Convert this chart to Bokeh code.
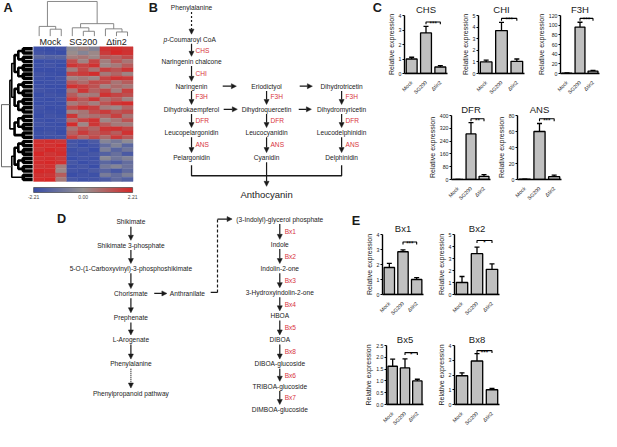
import numpy as np
from bokeh.plotting import figure
from bokeh.models import (Range1d, FactorRange, ColumnDataSource, Arrow, NormalHead, Whisker,
                          TeeHead, LinearColorMapper, ColorBar, FixedTicker,
                          PrintfTickFormatter, Spacer)
from bokeh.layouts import row, column
from bokeh.core.properties import value
from bokeh.embed import file_html
from bokeh.resources import INLINE

FONT = "Liberation Sans"
RED = "#d8343c"
INK = "#1a1a1a"
BAR_FILL = "#c0c0c0"

# ---------------- data ----------------
categories = ["Mock", "SG200", "Δtin2"]

chs_mean = [1.00, 2.80, 0.45]; chs_err = [0.12, 0.45, 0.10]; chs_ticks = [0, 1, 2, 3, 4]
chi_mean = [1.00, 3.70, 1.05]; chi_err = [0.15, 0.70, 0.20]; chi_ticks = [0, 1, 2, 3, 4, 5]
f3h_mean = [0.8, 96.0, 5.0];   f3h_err = [0.3, 10.0, 1.5];   f3h_ticks = [0, 20, 40, 60, 80, 100, 120]
dfr_mean = [0.5, 285.0, 20.0]; dfr_err = [0.3, 70.0, 10.0];  dfr_ticks = [0, 80, 160, 240, 320, 400]
ans_mean = [0.3, 60.0, 3.5];   ans_err = [0.2, 10.0, 2.0];   ans_ticks = [0, 20, 40, 60, 80]
bx1_mean = [1.80, 2.85, 1.00]; bx1_err = [0.27, 0.12, 0.12]; bx1_ticks = [0, 1, 2, 3, 4]
bx2_mean = [1.00, 3.40, 2.10]; bx2_err = [0.50, 0.55, 0.45]; bx2_ticks = [0, 1, 2, 3, 4, 5]
bx5_mean = [1.62, 1.55, 1.00]; bx5_err = [0.30, 0.38, 0.07]; bx5_ticks = [0.0, 0.5, 1.0, 1.5, 2.0, 2.5]
bx8_mean = [1.95, 2.95, 1.00]; bx8_err = [0.20, 0.50, 0.10]; bx8_ticks = [0, 1, 2, 3, 4]

sig_stars = {"CHS": "***", "CHI": "***", "F3H": "***", "DFR": "**", "ANS": "***",
             "Bx1": "***", "Bx2": "*", "Bx5": "*", "Bx8": "***"}
sig_level = {"CHS": 3.55, "CHI": 4.75, "F3H": 114, "DFR": 380, "ANS": 76,
             "Bx1": 3.5, "Bx2": 4.5, "Bx5": 2.2, "Bx8": 3.65}

# heatmap (z-scores), columns: Mock x3, SG200 x3, Δtin2 x3
heat_rows = [
    [-2.1, -2.2, -2.0, -0.2, 0.3, -0.5, 2.0, 2.1, 1.9],
    [-2.0, -2.1, -2.2, 0.1, -0.4, 0.2, 1.8, 2.2, 2.0],
    [-1.4, -1.6, -1.5, 0.4, 0.6, 0.2, 1.2, 1.0, 1.5],
    [-2.2, -2.1, -2.1, 1.4, 0.3, 1.6, 0.4, 1.2, 0.6],
    [-2.1, -2.0, -2.2, 1.9, 1.6, 2.0, 0.2, 0.5, 1.1],
    [-2.2, -2.2, -2.1, 0.4, 1.5, 0.6, 1.7, 1.3, 1.9],
    [-2.0, -2.1, -2.2, 1.6, 1.8, 2.1, 0.5, 0.9, 0.3],
    [-2.1, -2.2, -2.0, 0.3, 0.5, 0.2, 1.6, 2.0, 1.8],
    [-2.2, -2.1, -2.1, 1.2, 0.8, 1.5, 1.4, 0.6, 1.1],
    [-2.1, -2.2, -2.2, 2.0, 1.7, 1.3, 0.3, 0.8, 0.5],
    [-2.0, -2.1, -2.2, 0.6, 1.9, 1.0, 1.5, 0.4, 1.7],
    [-2.2, -2.0, -2.1, 1.1, 0.4, 0.5, 2.0, 1.6, 1.4],
    [-2.1, -2.2, -2.0, 1.8, 1.2, 1.9, 0.7, 1.1, 0.3],
    [-2.2, -2.1, -2.2, 0.5, 0.9, 0.4, 1.3, 1.9, 2.1],
    [-2.0, -2.2, -2.1, 1.5, 2.0, 1.7, 0.4, 0.2, 0.9],
    [-2.1, -2.1, -2.2, 0.3, 0.6, 1.4, 1.8, 1.2, 1.5],
    [-2.2, -2.0, -2.1, 1.9, 0.5, 0.7, 1.0, 1.7, 0.6],
    [-2.1, -2.2, -2.0, 0.8, 1.6, 2.0, 0.2, 0.6, 1.3],
    [-2.0, -2.1, -2.2, 2.1, 0.2, 1.9, 1.1, 0.5, 0.4],
    [-2.2, -2.1, -2.1, 0.6, 1.3, 0.9, 1.9, 2.0, 1.6],
    [-2.1, -2.0, -2.2, 1.0, 1.8, 1.2, 1.6, 1.1, 2.0],
    [-2.2, -2.1, -2.0, 1.7, 0.9, 1.5, 0.8, 1.8, 1.2],
    [2.0, 2.1, 1.9, -2.0, -2.1, -1.8, -0.4, -0.8, -0.2],
    [2.1, 2.0, 2.2, -1.9, -2.2, -2.0, -1.2, -0.5, -1.4],
    [1.9, 2.2, 2.0, -2.1, -1.9, -2.2, -0.6, -1.5, -0.9],
    [2.2, 1.9, 2.1, -2.0, -2.1, -1.9, -1.6, -1.1, -1.8],
    [2.0, 2.1, 1.8, -2.2, -2.0, -2.1, -0.3, -0.9, -0.5],
    [2.1, 2.2, 2.0, -1.9, -2.2, -2.0, -1.4, -1.7, -1.2],
    [1.9, 2.0, 0.4, -2.1, -1.9, -2.2, -0.8, -0.4, -1.0],
    [2.2, 2.1, 0.2, -2.0, -2.1, -1.8, -1.5, -1.9, -1.3],
    [2.0, 1.9, 1.1, -2.2, -2.0, -2.1, -0.7, -1.2, -0.6],
    [2.1, 2.2, 0.5, -1.9, -2.1, -2.0, -1.8, -1.3, -1.6],
]
heat_groups = ["Mock", "SG200", "Δtin2"]
heat_limits = [-2.21, 2.21]
heat_ticks = [-2.21, 0.0, 2.21]

# column dendrogram merges (a, b, height); new nodes numbered from 9
col_merges = [(1, 2, 0.20), (0, 9, 0.28), (4, 5, 0.14), (3, 11, 0.24),
              (7, 8, 0.12), (6, 13, 0.21), (12, 14, 0.36), (10, 15, 1.0)]
# row dendrogram: merge heights per level inside each block, block sizes, block heights
row_level_h = [0.30, 0.46, 0.58, 0.67, 0.73]
row_block_sizes = [22, 10]
row_block_h = [0.78, 0.76]
row_root_h = 1.0

# ---------------- geometry helpers ----------------
W, H = 601, 431
SX, SY = W / 617.0, H / 447.0
def sx(v): return int(round(v * SX))
def sy(v): return int(round(v * SY))
FS = lambda v: "%.1fpx" % (v * SX)


def put_text(p, xs, ys, texts, size=6.8, color=INK, align="center", style="normal", baseline="middle"):
    p.text(x=xs, y=ys, text=texts, text_font=value(FONT), text_font_size=FS(size),
           text_color=color, text_align=align, text_baseline=baseline, text_font_style=style)


def put_arrows(p, x0, y0, x1, y1, dash="solid", width=1.2):
    src = ColumnDataSource(dict(x0=x0, y0=y0, x1=x1, y1=y1))
    p.add_layout(Arrow(end=NormalHead(size=5, fill_color=INK, line_color=INK, line_width=0.5),
                       x_start="x0", y_start="y0", x_end="x1", y_end="y1", source=src,
                       line_width=width, line_color=INK, line_dash=dash))


def diagram_fig(x0, x1, y0, y1):
    p = figure(width=sx(x1) - sx(x0), height=sy(y1) - sy(y0), x_range=Range1d(x0, x1),
               y_range=Range1d(y1, y0), x_axis_location=None, y_axis_location=None,
               output_backend="svg", toolbar_location=None, min_border=0, title=None)
    p.grid.visible = False
    p.outline_line_color = None
    return p


def dendro(n, merges, leaf_pos):
    pos = list(leaf_pos)
    hgt = [0.0] * n
    segs = []
    for a, b, h in merges:
        segs.append(([pos[a], pos[a], pos[b], pos[b]], [hgt[a], h, h, hgt[b]]))
        pos.append((pos[a] + pos[b]) / 2.0)
        hgt.append(h)
    return segs


def build_row_merges(n):
    merges = []
    nid = n
    roots = []
    start = 0
    for bsize, bh in zip(row_block_sizes, row_block_h):
        nodes = list(range(start, start + bsize))
        lvl = 0
        while len(nodes) > 1 and lvl < len(row_level_h):
            new = []
            for i in range(0, len(nodes) - 1, 2):
                merges.append((nodes[i], nodes[i + 1], row_level_h[lvl]))
                new.append(nid); nid += 1
            if len(nodes) % 2:
                new.append(nodes[-1])
            nodes = new
            lvl += 1
        while len(nodes) > 1:
            merges.append((nodes[0], nodes[1], bh))
            nodes = [nid] + nodes[2:]
            nid += 1
        roots.append(nodes[0])
        start += bsize
    merges.append((roots[0], roots[1], row_root_h))
    return merges


# ---------------- palette ----------------
stops = [(58, 78, 168), (150, 146, 146), (214, 40, 40)]
palette = []
for i in range(256):
    t = i / 255.0
    if t < 0.5:
        a, b, u = stops[0], stops[1], t / 0.5
    else:
        a, b, u = stops[1], stops[2], (t - 0.5) / 0.5
    palette.append("#%02x%02x%02x" % tuple(int(round(a[k] + (b[k] - a[k]) * u)) for k in range(3)))

# ================= panel A + B (+ letter C) =================
AB_RIGHT = 394
pAB = diagram_fig(0, AB_RIGHT, 0, 215)

hm = np.array(heat_rows)
nr, nc = hm.shape
HX0, HX1, HY0, HY1 = 34.0, 136.0, 48.0, 188.0
cw = (HX1 - HX0) / nc
rh = (HY1 - HY0) / nr
rr, cc = np.meshgrid(np.arange(nr), np.arange(nc), indexing="ij")
mapper = LinearColorMapper(palette=palette, low=heat_limits[0], high=heat_limits[1])
hsrc = ColumnDataSource(dict(x=HX0 + (cc.ravel() + 0.5) * cw, y=HY0 + (rr.ravel() + 0.5) * rh, v=hm.ravel()))
pAB.rect(x="x", y="y", width=cw, height=rh, source=hsrc,
         fill_color={"field": "v", "transform": mapper},
         line_color={"field": "v", "transform": mapper}, line_width=0.4)

# column dendrogram
col_leaf = [HX0 + (i + 0.5) * cw for i in range(nc)]
for xs, hs in dendro(nc, col_merges, col_leaf):
    pAB.line(x=xs, y=[37 - 36 * h for h in hs], line_color="#7a7a7a", line_width=0.9)
# row dendrogram (dense leaf region drawn dark, upper links thin)
row_leaf = [HY0 + (i + 0.5) * rh for i in range(nr)]
for ys, hs in dendro(nr, build_row_merges(nr), row_leaf):
    top = max(hs)
    lw = 3.6 if top < 0.4 else (2.6 if top < 0.62 else (1.6 if top < 0.75 else 0.9))
    col = "black" if top < 0.75 else "#555555"
    pAB.line(x=[33 - 32 * h for h in hs], y=ys, line_color=col, line_width=lw)

group_x = [HX0 + (1.5 + 3 * g) * cw for g in range(3)]
put_text(pAB, group_x, [43, 43, 43], heat_groups, size=9.2)

cb = ColorBar(color_mapper=mapper, orientation="horizontal", location=(HX0 * SX, 6),
              width=sx(HX1) - sx(HX0), height=5, padding=0,
              ticker=FixedTicker(ticks=heat_ticks), formatter=PrintfTickFormatter(format="%.2f"),
              major_label_text_font_size="5px", major_label_text_font=FONT,
              major_tick_line_color=None, minor_tick_line_color=None,
              bar_line_color="#333333", bar_line_width=0.6, label_standoff=2,
              background_fill_alpha=0, border_line_color=None)
pAB.add_layout(cb, "center")

# panel B pathway
c1, c2, c3 = 196, 273, 350
put_text(pAB, [c1, c1, c1, c2, c3, c1, c2, c3, c1, c2, c3, c1, c2, c3],
         [7, 63, 89, 89, 89, 113, 113, 113, 137, 137, 137, 163, 163, 163],
         ["Phenylalanine", "Naringenin chalcone", "Naringenin", "Eriodictyol", "Dihydrotricetin",
          "Dihydrokaempferol", "Dihydroquercetin", "Dihydromyricetin",
          "Leucopelargonidin", "Leucocyanidin", "Leucodelphinidin",
          "Pelargonidin", "Cyanidin", "Delphinidin"])
put_text(pAB, [171], [40], ["p"], align="right", style="italic")
put_text(pAB, [171], [40], ["-Coumaroyl CoA"], align="left")
put_text(pAB, [c2], [201], ["Anthocyanin"], size=9.8)
put_text(pAB, [200, 200, 200, 277, 354, 200, 277, 354, 200, 277, 354],
         [52, 76, 100, 100, 100, 125, 125, 125, 150, 150, 150],
         ["CHS", "CHI", "F3H", "F3H", "F3H", "DFR", "DFR", "DFR", "ANS", "ANS", "ANS"],
         color=RED, align="left")
put_arrows(pAB, [c1], [12], [c1], [35], dash="2 2")
vx = [c1, c1, c1, c1, c1, c2, c2, c2, c3, c3, c3]
vy0 = [45, 68, 94, 118, 142, 94, 118, 142, 94, 118, 142]
vy1 = [58, 84, 108, 132, 158, 108, 132, 158, 108, 132, 158]
put_arrows(pAB, vx, vy0, vx, vy1)
put_arrows(pAB, [228, 307, 229, 306], [89, 89, 113, 113], [242, 320, 243, 319], [89, 89, 113, 113])
pAB.line(x=[c1, c1, c3, c3], y=[171, 182, 182, 171], line_color=INK, line_width=1.3)
put_arrows(pAB, [c2], [168], [c2], [193])
put_text(pAB, [3, 152, 382], [8, 8, 8], ["A", "B", "C"], size=13, style="bold", align="left")

# ================= panel D (+ letter E) =================
D_RIGHT = 372
pD = diagram_fig(0, D_RIGHT, 215, 447)
lx = 134
left_y = [230, 254, 278, 304, 329, 352, 377, 408]
left_t = ["Shikimate", "Shikimate 3-phosphate", "5-O-(1-Carboxyvinyl)-3-phosphoshikimate",
          "Chorismate", "Prephenate", "L-Arogenate", "Phenylalanine", "Phenylpropanoid pathway"]
put_text(pD, [lx] * len(left_y), left_y, left_t)
put_arrows(pD, [lx] * 6, [y + 5 for y in left_y[:6]], [lx] * 6, [y - 5 for y in left_y[1:7]])
put_arrows(pD, [lx], [left_y[6] + 5], [lx], [left_y[7] - 6], dash="1 1")
put_arrows(pD, [158], [304], [171], [304])
put_text(pD, [174], [304], ["Anthranilate"], align="left")
pD.line(x=[216, 223], y=[303, 303], line_color=INK, line_width=1.2)
pD.line(x=[223, 223], y=[303, 227], line_color=INK, line_width=1.2, line_dash="3 2")
put_arrows(pD, [223], [227], [238], [227])

rx = 287
right_y = [227, 253, 278, 303, 327, 352, 377, 400, 424]
right_t = ["(3-Indolyl)-glycerol phosphate", "Indole", "Indolin-2-one", "3-Hydroxyindolin-2-one",
           "HBOA", "DIBOA", "DIBOA-glucoside", "TRIBOA-glucoside", "DIMBOA-glucoside"]
put_text(pD, [rx] * len(right_y), right_y, right_t)
put_arrows(pD, [rx] * 8, [y + 5 for y in right_y[:-1]], [rx] * 8, [y - 5 for y in right_y[1:]])
enz_t = ["Bx1", "Bx2", "Bx3", "Bx4", "Bx5", "Bx8", "Bx6", "Bx7"]
put_text(pD, [rx + 5] * 8, [(a + b) / 2.0 for a, b in zip(right_y[:-1], right_y[1:])], enz_t,
         color=RED, align="left")
put_text(pD, [58, 361], [227, 229], ["D", "E"], size=13, style="bold", align="left")


# ================= bar panels =================
def bar_panel(name, means, errs, ticks, box, frame):
    x0, x1, y0, y1 = box
    fl, fr, ft, fb = frame
    p = figure(width=sx(x1) - sx(x0), height=sy(y1) - sy(y0),
               x_range=FactorRange(factors=categories), y_range=Range1d(ticks[0], ticks[-1]),
               output_backend="svg", toolbar_location=None, title=name,
               min_border_left=sx(fl) - sx(x0), min_border_right=sx(x1) - sx(fr),
               min_border_top=sy(ft) - sy(y0), min_border_bottom=sy(y1) - sy(fb))
    p.title.align = "center"
    p.title.text_font = FONT
    p.title.text_font_size = FS(9.8)
    p.title.text_font_style = "normal"
    p.title.text_color = INK
    p.title.standoff = 2
    p.outline_line_color = None
    p.grid.visible = False

    src = ColumnDataSource(dict(x=categories, top=means, upper=[m + e for m, e in zip(means, errs)]))
    p.vbar(x="x", top="top", width=0.76, source=src, fill_color=BAR_FILL,
           line_color="black", line_width=1.3)
    p.add_layout(Whisker(source=src, base="x", lower="top", upper="upper", dimension="height",
                         line_width=1.3, line_color="black", lower_head=None,
                         upper_head=TeeHead(size=5, line_width=1.3, line_color="black")))
    s = sig_level[name]
    d = ticks[-1] * 0.04
    p.line(x=[categories[1], categories[1], categories[2], categories[2]],
           y=[s - d, s, s, s - d], line_color="black", line_width=1.1)
    mid = (categories.index(categories[1]) + categories.index(categories[2])) / 2.0 + 0.5
    p.text(x=[mid], y=[s], text=[sig_stars[name]], text_align="center", text_baseline="alphabetic",
           y_offset=1.5, text_font=value(FONT), text_font_size=FS(6.5), text_color="black")

    yax = p.yaxis[0]
    yax.ticker = FixedTicker(ticks=ticks)
    if any(float(t) != int(t) for t in ticks):
        yax.formatter = PrintfTickFormatter(format="%.1f")
    yax.axis_label = "Relative expression"
    yax.axis_label_text_font = FONT
    yax.axis_label_text_font_size = FS(7.2)
    yax.axis_label_text_font_style = "normal"
    yax.axis_label_text_color = INK
    yax.axis_label_standoff = 1
    yax.major_label_text_font = FONT
    yax.major_label_text_font_size = FS(5.3)
    yax.major_label_text_color = INK
    yax.major_label_standoff = 1
    yax.major_tick_out = 2
    yax.major_tick_in = 0
    yax.minor_tick_line_color = None
    yax.axis_line_width = 1.4
    xax = p.xaxis[0]
    xax.major_label_orientation = np.pi / 4
    xax.major_tick_line_color = None
    xax.minor_tick_line_color = None
    xax.axis_line_width = 1.4
    xax.major_label_text_font = FONT
    xax.major_label_text_font_size = FS(5.3)
    xax.major_label_text_color = INK
    xax.major_label_standoff = 2
    return p


chs = bar_panel("CHS", chs_mean, chs_err, chs_ticks, (AB_RIGHT, 470, 0, 104), (411, 459, 12, 81))
chi = bar_panel("CHI", chi_mean, chi_err, chi_ticks, (470, 548, 0, 104), (491, 538, 12, 81))
f3h = bar_panel("F3H", f3h_mean, f3h_err, f3h_ticks, (548, 617, 0, 104), (570, 615, 12, 81))
dfr = bar_panel("DFR", dfr_mean, dfr_err, dfr_ticks, (436, 507, 104, 215), (458, 503, 117, 186))
ans = bar_panel("ANS", ans_mean, ans_err, ans_ticks, (507, 580, 104, 215), (528, 576, 117, 186))
bx1 = bar_panel("Bx1", bx1_mean, bx1_err, bx1_ticks, (D_RIGHT, 444, 215, 333), (388, 434, 243, 312))
bx2 = bar_panel("Bx2", bx2_mean, bx2_err, bx2_ticks, (444, 522, 215, 333), (466, 512, 243, 312))
bx5 = bar_panel("Bx5", bx5_mean, bx5_err, bx5_ticks, (D_RIGHT, 444, 333, 447), (390, 434, 358, 428))
bx8 = bar_panel("Bx8", bx8_mean, bx8_err, bx8_ticks, (444, 522, 333, 447), (466, 512, 358, 428))

c_block = column(
    row(chs, chi, f3h),
    row(Spacer(width=sx(436) - sx(AB_RIGHT), height=sy(215) - sy(104)), dfr, ans,
        Spacer(width=sx(617) - sx(580), height=sy(215) - sy(104))))
e_block = column(
    row(bx1, bx2, Spacer(width=sx(617) - sx(522), height=sy(333) - sy(215))),
    row(bx5, bx8, Spacer(width=sx(617) - sx(522), height=sy(447) - sy(333))))
layout = column(row(pAB, c_block), row(pD, e_block))

open("out.html", "w").write(file_html(layout, INLINE))
